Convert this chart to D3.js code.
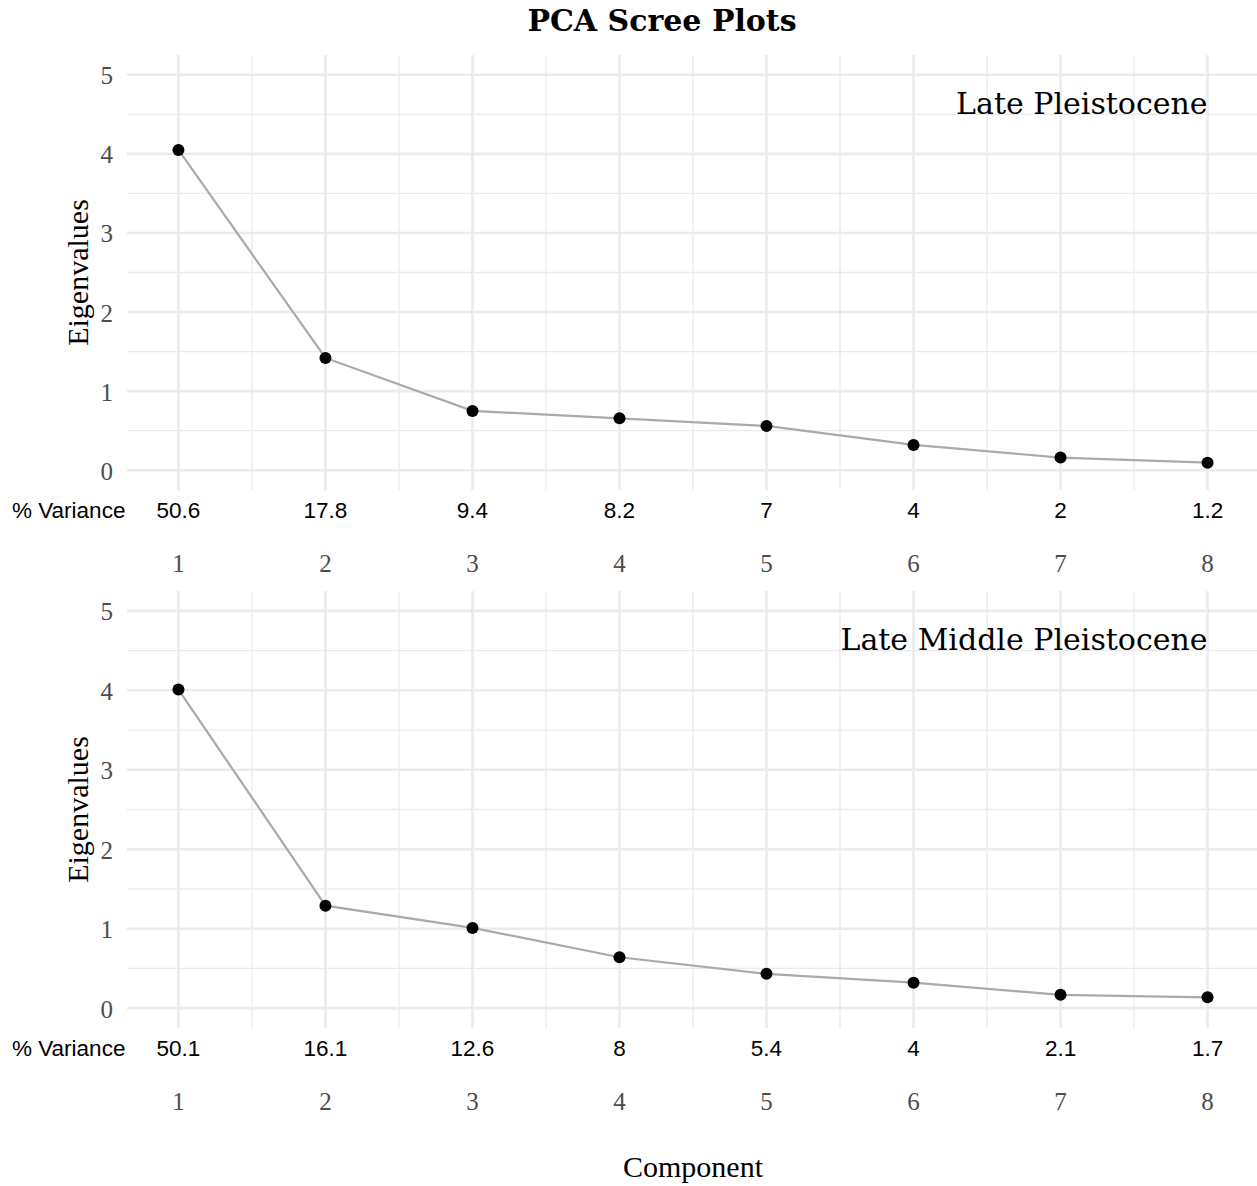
<!DOCTYPE html>
<html>
<head>
<meta charset="utf-8">
<script src="https://cdn.jsdelivr.net/npm/d3@7"></script>
<style>
  body { margin: 0; background: #fff; }
  svg { display: block; }
</style>
</head>
<body>
<svg id="svg"></svg>
<script>
const width = 1257;
const height = 1186;

// data
const components = [1, 2, 3, 4, 5, 6, 7, 8];
const latePleistEigen = [4.05, 1.42, 0.75, 0.656, 0.56, 0.32, 0.16, 0.096];
const latePleistVar = ["50.6", "17.8", "9.4", "8.2", "7", "4", "2", "1.2"];
const lateMidEigen = [4.01, 1.29, 1.01, 0.64, 0.432, 0.32, 0.168, 0.136];
const lateMidVar = ["50.1", "16.1", "12.6", "8", "5.4", "4", "2.1", "1.7"];
const yTicks = [0, 1, 2, 3, 4, 5];
const yMinor = [0.5, 1.5, 2.5, 3.5, 4.5];

const panels = [
  { label: "Late Pleistocene", eigen: latePleistEigen, variance: latePleistVar, top: 55, bottom: 490 },
  { label: "Late Middle Pleistocene", eigen: lateMidEigen, variance: lateMidVar, top: 591, bottom: 1028 },
];

const serif = "'Liberation Serif', 'Times New Roman', serif";
const wideSerif = "'DejaVu Serif', serif";
const sans = "'Liberation Sans', Arial, sans-serif";
const gridColor = "#ebebeb";

const svg = d3.select("#svg").attr("width", width).attr("height", height);

const x = d3.scaleLinear().domain([0.65, 8.35]).range([127, 1259]);
const xMinor = d3.range(1.5, 8, 1);

// title
svg.append("text")
  .attr("x", 662)
  .attr("y", 20)
  .attr("text-anchor", "middle")
  .attr("dominant-baseline", "central")
  .attr("font-family", wideSerif)
  .attr("font-weight", "bold")
  .attr("font-size", 30)
  .attr("fill", "#000")
  .text("PCA Scree Plots");

function drawPanel(p) {
  const y = d3.scaleLinear().domain([-0.25, 5.25]).range([p.bottom, p.top]);
  const g = svg.append("g");

  // grid
  g.selectAll("line.hminor")
    .data(yMinor)
    .join("line")
    .attr("x1", x.range()[0]).attr("x2", x.range()[1])
    .attr("y1", (d) => y(d)).attr("y2", (d) => y(d))
    .attr("stroke", gridColor).attr("stroke-width", 1.3);
  g.selectAll("line.vminor")
    .data(xMinor)
    .join("line")
    .attr("x1", (d) => x(d)).attr("x2", (d) => x(d))
    .attr("y1", p.top).attr("y2", p.bottom)
    .attr("stroke", gridColor).attr("stroke-width", 1.3);
  g.append("g").selectAll("line")
    .data(yTicks)
    .join("line")
    .attr("x1", x.range()[0]).attr("x2", x.range()[1])
    .attr("y1", (d) => y(d)).attr("y2", (d) => y(d))
    .attr("stroke", gridColor).attr("stroke-width", 2.6);
  g.append("g").selectAll("line")
    .data(components)
    .join("line")
    .attr("x1", (d) => x(d)).attr("x2", (d) => x(d))
    .attr("y1", p.top).attr("y2", p.bottom)
    .attr("stroke", gridColor).attr("stroke-width", 2.6);

  // y tick labels
  g.append("g").selectAll("text")
    .data(yTicks)
    .join("text")
    .attr("x", 113)
    .attr("y", (d) => y(d) + 1)
    .attr("text-anchor", "end")
    .attr("dominant-baseline", "central")
    .attr("font-family", serif)
    .attr("font-size", 25)
    .attr("fill", "#4d4d4d")
    .text((d) => d);

  // y axis title
  g.append("text")
    .attr("transform", `translate(77, ${(p.top + p.bottom) / 2}) rotate(-90)`)
    .attr("text-anchor", "middle")
    .attr("dominant-baseline", "central")
    .attr("font-family", serif)
    .attr("font-size", 30)
    .attr("fill", "#000")
    .text("Eigenvalues");

  // line + points
  const pts = components.map((c, i) => [c, p.eigen[i]]);
  g.append("path")
    .datum(pts)
    .attr("fill", "none")
    .attr("stroke", "#aaaaaa")
    .attr("stroke-width", 2.2)
    .attr("d", d3.line().x((d) => x(d[0])).y((d) => y(d[1])));
  g.append("g").selectAll("circle")
    .data(pts)
    .join("circle")
    .attr("cx", (d) => x(d[0]))
    .attr("cy", (d) => y(d[1]))
    .attr("r", 6)
    .attr("fill", "#000");

  // facet label
  g.append("text")
    .attr("x", x(8))
    .attr("y", p.top + 48)
    .attr("text-anchor", "end")
    .attr("dominant-baseline", "central")
    .attr("font-family", wideSerif)
    .attr("font-size", 30)
    .attr("fill", "#000")
    .text(p.label);

  // % variance row
  g.append("text")
    .attr("x", 12)
    .attr("y", p.bottom + 20)
    .attr("dominant-baseline", "central")
    .attr("font-family", sans)
    .attr("font-size", 22.5)
    .attr("fill", "#000")
    .text("% Variance");
  g.append("g").selectAll("text")
    .data(components)
    .join("text")
    .attr("x", (d) => x(d))
    .attr("y", p.bottom + 20)
    .attr("text-anchor", "middle")
    .attr("dominant-baseline", "central")
    .attr("font-family", sans)
    .attr("font-size", 22.5)
    .attr("fill", "#000")
    .text((d, i) => p.variance[i]);

  // x tick labels
  g.append("g").selectAll("text")
    .data(components)
    .join("text")
    .attr("x", (d) => x(d))
    .attr("y", p.bottom + 73)
    .attr("text-anchor", "middle")
    .attr("dominant-baseline", "central")
    .attr("font-family", serif)
    .attr("font-size", 25)
    .attr("fill", "#4d4d4d")
    .text((d) => d);
}

panels.forEach(drawPanel);

// x axis title
svg.append("text")
  .attr("x", (x.range()[0] + x.range()[1]) / 2)
  .attr("y", 1166)
  .attr("text-anchor", "middle")
  .attr("dominant-baseline", "central")
  .attr("font-family", serif)
  .attr("font-size", 30)
  .attr("fill", "#000")
  .text("Component");
</script>
</body>
</html>
